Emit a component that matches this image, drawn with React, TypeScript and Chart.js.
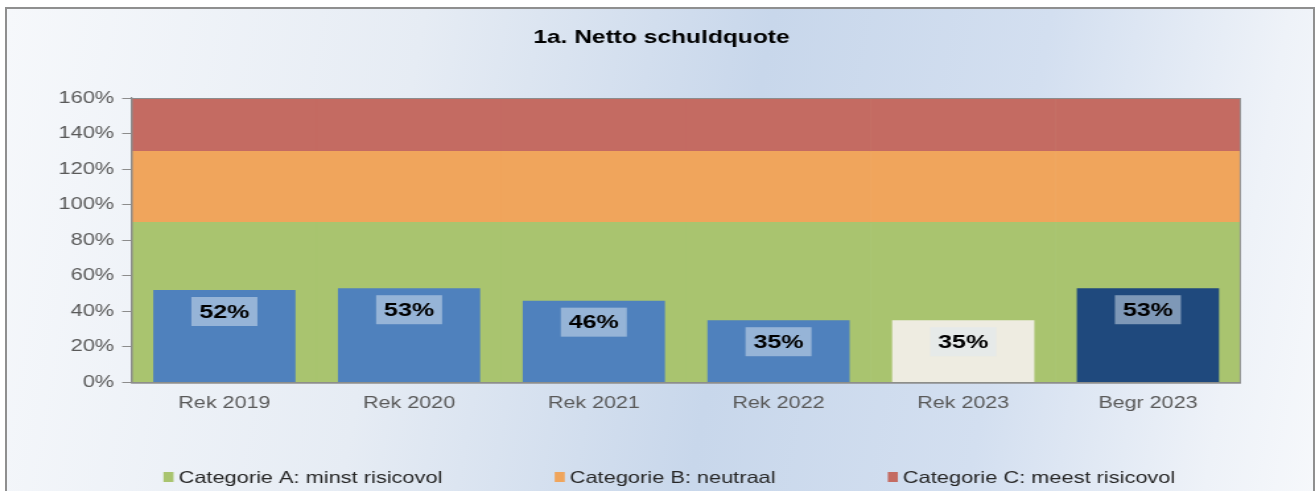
import React, { useEffect, useRef } from "react";
import { Chart, registerables } from "chart.js";

Chart.register(...registerables);

const categories = ["Rek 2019", "Rek 2020", "Rek 2021", "Rek 2022", "Rek 2023", "Begr 2023"];
const schuldquote = [52, 53, 46, 35, 35, 53];
const barColors = ["#4F81BD", "#4F81BD", "#4F81BD", "#4F81BD", "#EEECE1", "#1F497D"];
const bandA = [90, 90, 90, 90, 90, 90];
const bandB = [40, 40, 40, 40, 40, 40];
const bandC = [30, 30, 30, 30, 30, 30];
const bandLabels = ["Categorie A: minst risicovol", "Categorie B: neutraal", "Categorie C: meest risicovol"];
const bandColors = ["#A9C46F", "#F0A55C", "#C46B62"];
const yTicks = [0, 20, 40, 60, 80, 100, 120, 140, 160];
const titleText = "1a. Netto schuldquote";

const FONT = "'Liberation Sans', Arial, sans-serif";
// the reference picture is stretched horizontally; the canvas is drawn narrower and scaled by CSS
const STRETCH = 1.32;
const CSS_W = 1315;
const CSS_H = 491;
const CANVAS_W = Math.round(CSS_W / STRETCH);

const labelPlugin = {
  id: "barLabels",
  afterDatasetsDraw(chart: any) {
    const meta = chart.getDatasetMeta(3);
    const ctx = chart.ctx;
    ctx.save();
    ctx.font = `bold 19px ${FONT}`;
    ctx.textAlign = "center";
    ctx.textBaseline = "middle";
    meta.data.forEach((el: any, i: number) => {
      const text = schuldquote[i] + "%";
      const w = ctx.measureText(text).width + 12;
      const h = 29;
      const cx = el.x;
      const cy = el.y + 21.5;
      ctx.fillStyle = "rgba(222,231,242,0.5)";
      ctx.fillRect(cx - w / 2, cy - h / 2, w, h);
      ctx.fillStyle = "#000";
      ctx.fillText(text, cx, cy + 1);
    });
    ctx.restore();
  },
};

const framePlugin = {
  id: "areaFrame",
  afterDatasetsDraw(chart: any) {
    const { ctx, chartArea } = chart;
    ctx.save();
    ctx.strokeStyle = "#8c8c8c";
    ctx.lineWidth = 1;
    ctx.strokeRect(chartArea.left, chartArea.top + 0.5, chartArea.right - chartArea.left, chartArea.bottom - chartArea.top);
    ctx.restore();
  },
};

const titleLegendPlugin = {
  id: "titleLegend",
  afterDraw(chart: any) {
    const ctx = chart.ctx;
    ctx.save();
    // title
    ctx.font = `bold 18.6px ${FONT}`;
    ctx.textAlign = "center";
    ctx.textBaseline = "middle";
    ctx.fillStyle = "#000";
    ctx.fillText(titleText, 501, 38);
    // legend
    const items = chart.data.datasets.slice(0, 3);
    const boxW = 7.6;
    const boxH = 10;
    const gap = 11.4;
    const spacing = 85;
    const yc = 477;
    ctx.font = `16.5px ${FONT}`;
    ctx.textAlign = "left";
    const widths = items.map((d: any) => gap + ctx.measureText(d.label).width);
    const total = widths.reduce((a: number, b: number) => a + b, 0) + spacing * (items.length - 1);
    let x = 507 - total / 2;
    items.forEach((d: any, i: number) => {
      ctx.fillStyle = d.backgroundColor;
      ctx.fillRect(x, yc - boxH / 2, boxW, boxH);
      ctx.fillStyle = "#262626";
      ctx.fillText(d.label, x + gap, yc + 1);
      x += widths[i] + spacing;
    });
    ctx.restore();
  },
};

export default function App() {
  const ref = useRef<HTMLCanvasElement>(null);
  useEffect(() => {
    const canvas = ref.current;
    if (!canvas) return;
    const L = 8;
    const chart = new Chart(canvas, {
      type: "bar",
      data: {
        labels: categories,
        datasets: [
          { label: bandLabels[0], data: bandA, backgroundColor: bandColors[0], stack: "bands", grouped: false, barPercentage: 1, categoryPercentage: 1, order: 2 },
          { label: bandLabels[1], data: bandB, backgroundColor: bandColors[1], stack: "bands", grouped: false, barPercentage: 1, categoryPercentage: 1, order: 2 },
          { label: bandLabels[2], data: bandC, backgroundColor: bandColors[2], stack: "bands", grouped: false, barPercentage: 1, categoryPercentage: 1, order: 2 },
          { label: "Netto schuldquote", data: schuldquote, backgroundColor: barColors, stack: "main", grouped: false, barPercentage: 0.77, categoryPercentage: 1, order: 1 },
        ],
      },
      options: {
        responsive: false,
        animation: false,
        layout: { padding: { left: L, right: 56.6, top: 98, bottom: 67 } },
        plugins: {
          title: { display: false },
          legend: { display: false },
          tooltip: { enabled: false },
        },
        scales: {
          x: {
            stacked: true,
            grid: { display: false, drawTicks: false },
            border: { color: "#8c8c8c", width: 1.5 },
            ticks: { color: "#595959", font: { family: FONT, size: 16.3 }, padding: 11 },
          },
          y: {
            stacked: true,
            min: 0,
            max: 160,
            afterBuildTicks: (scale: any) => {
              scale.ticks = yTicks.map((v) => ({ value: v }));
            },
            afterFit: (scale: any) => {
              scale.width = 100 - L;
            },
            grid: { drawOnChartArea: false, tickLength: 7.5, color: "#8c8c8c" },
            border: { color: "#8c8c8c", width: 1.2 },
            ticks: {
              color: "#595959",
              font: { family: FONT, size: 16.5 },
              padding: 6,
              callback: (v: any) => v + "%",
            },
          },
        },
      },
      plugins: [labelPlugin, framePlugin, titleLegendPlugin],
    } as any);
    return () => chart.destroy();
  }, []);

  return (
    <div style={{ position: "fixed", left: 0, top: 0, width: CSS_W, height: CSS_H, background: "#fff", overflow: "hidden" }}>
      <div
        style={{
          position: "absolute",
          left: 5,
          top: 7,
          width: 1306,
          height: 500,
          border: "2px solid #8f8f8f",
          background:
            "linear-gradient(100deg, #f6f8fb 0%, #e6ecf4 30%, #c8d7eb 55%, #d3dff0 75%, #eef2f8 92%, #f6f8fb 100%)",
        }}
      />
      <canvas
        ref={ref}
        width={CANVAS_W}
        height={CSS_H}
        style={{ position: "absolute", left: 0, top: 0, width: CSS_W + "px", height: CSS_H + "px" }}
      />
    </div>
  );
}
